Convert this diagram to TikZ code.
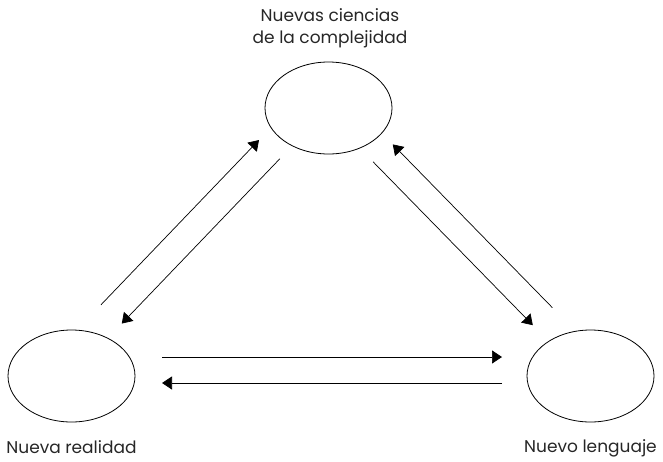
\documentclass[tikz,border=0pt]{standalone}
\usepackage{fontspec}
\setmainfont{Poppins}
\usetikzlibrary{arrows.meta,positioning,shapes.geometric}
\tikzset{
    %Define standard arrow tip
    >={Triangle[length=10pt,width=13pt]},
    %Define style for the ellipses
    blob/.style={
           ellipse,
           draw=black, line width=0.8pt,
           minimum width=127pt,
           minimum height=92pt,
           inner sep=0pt, outer sep=0pt},
    %Define style for labels
    lbl/.style={
           font=\fontsize{17}{21.5}\selectfont,
           text=black!85,
           align=center,
           inner sep=0pt},
    % Define arrow style
    pil/.style={
           ->,
           line width=0.7pt}
}
\begin{document}
\begin{tikzpicture}[x=1pt,y=-1pt]
\useasboundingbox (0,0) rectangle (663,461);
 %nodes
\node[blob] (cien) at (328.5,108) {};
\node[blob] (real) at (71.5,376) {};
\node[blob] (leng) at (590.5,376) {};
 %labels
\node[lbl, anchor=base] (tcien) at ([xshift=1.5pt,yshift=19pt]cien.north) {Nuevas ciencias\\de la complejidad};
\node[lbl, anchor=base] (treal) at ([yshift=-31pt]real.south) {Nueva realidad};
\node[lbl, anchor=base] (tleng) at ([yshift=-30pt]leng.south) {Nuevo lenguaje};
 %arrows
\draw[pil, shorten <=19.4pt, shorten >=18.9pt, transform canvas={shift={(-20.2pt,19.4pt)}}] (real) -- (cien);
\draw[pil, shorten <=18pt, shorten >=20.3pt] (cien) -- (real);
\draw[pil, shorten <=17.2pt, shorten >=24.2pt, transform canvas={shift={(-4.1pt,-4pt)}}] (cien) -- (leng);
\draw[pil, shorten <=23.1pt, shorten >=18.4pt, transform canvas={shift={(14.7pt,14.3pt)}}] (leng) -- (cien);
\draw[pil, shorten <=27pt, shorten >=25pt, transform canvas={shift={(0pt,19pt)}}] (real) -- (leng);
\draw[pil, shorten <=25pt, shorten >=27pt, transform canvas={shift={(0pt,-7pt)}}] (leng) -- (real);
\end{tikzpicture}
\end{document}
